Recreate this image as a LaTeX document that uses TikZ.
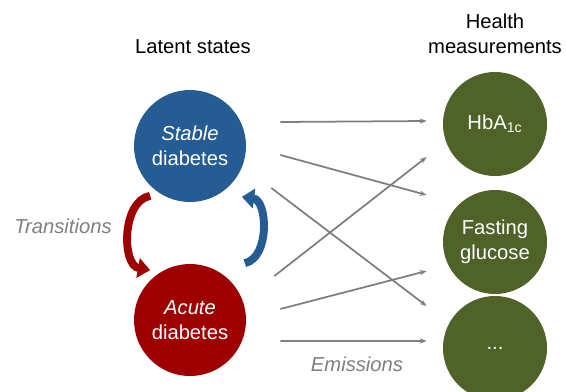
\documentclass[tikz,border=0pt]{standalone}
\usepackage{fontspec}
\setmainfont{Liberation Sans}
\usetikzlibrary{arrows.meta, positioning}
\definecolor{stateblue}{RGB}{36, 92, 147}
\definecolor{statered}{RGB}{158, 0, 0}
\definecolor{measgreen}{RGB}{79, 98, 40}
\definecolor{labelgray}{RGB}{127, 127, 127}

\begin{document}
\begin{tikzpicture}[
    font=\fontsize{11.5}{14}\selectfont,
    state/.style={circle, minimum size=2.24cm, inner sep=0pt, text=white, align=center},
    meas/.style={circle, minimum size=2.08cm, inner sep=0pt, text=white, align=center, fill=measgreen},
    emit/.style={-{Stealth[length=4pt, width=3pt]}, line width=1pt, draw=labelgray},
    trans/.style={-{Triangle[length=7pt, width=11pt]}, line width=4.5pt}
]
\useasboundingbox (0,0) rectangle (11.32,-7.82);

% latent states
\node[state, fill=stateblue] (stable) at (3.8,-2.92) {\textit{Stable}\\diabetes};
\node[state, fill=statered] (acute) at (3.8,-6.4) {\textit{Acute}\\diabetes};

% measurements
\node[meas] (hba) at (9.9,-2.48) {HbA\textsubscript{1c}};
\node[meas] (fast) at (9.9,-4.84) {Fasting\\glucose};
\node[meas] (dots) at (9.9,-6.96) {...};

% headings
\node (latent) at (3.86,-0.94) {Latent states};
\node[align=center] (health) at (9.9,-0.68) {Health\\measurements};
\node[text=labelgray] (translbl) at (1.26,-4.52) {\textit{Transitions}};
\node[text=labelgray] (emitlbl) at (7.14,-7.28) {\textit{Emissions}};

% transitions
\draw[trans, statered] ([yshift=-0.2cm]stable.south west) to[bend right=80] ([yshift=0.2cm]acute.north west);
\draw[trans, stateblue] ([shift={(0.3,0.34)}]acute.north east) to[bend right=80] ([shift={(0.24,-0.22)}]stable.south east);

% emissions
\draw[emit] ([shift={(0.68,0.48)}]stable.east) -- ([shift={(-0.32,0.06)}]hba.west);
\draw[emit] ([shift={(0.68,-0.18)}]stable.east) -- ([shift={(-0.32,0.94)}]fast.west);
\draw[emit] ([shift={(0.5,-0.84)}]stable.east) -- ([shift={(-0.32,0.84)}]dots.west);
\draw[emit] ([shift={(0.56,0.88)}]acute.east) -- ([shift={(-0.32,-0.66)}]hba.west);
\draw[emit] ([shift={(0.68,0.22)}]acute.east) -- ([shift={(-0.32,-0.58)}]fast.west);
\draw[emit] ([shift={(0.68,-0.42)}]acute.east) -- ([shift={(-0.32,0.14)}]dots.west);

\end{tikzpicture}
\end{document}
